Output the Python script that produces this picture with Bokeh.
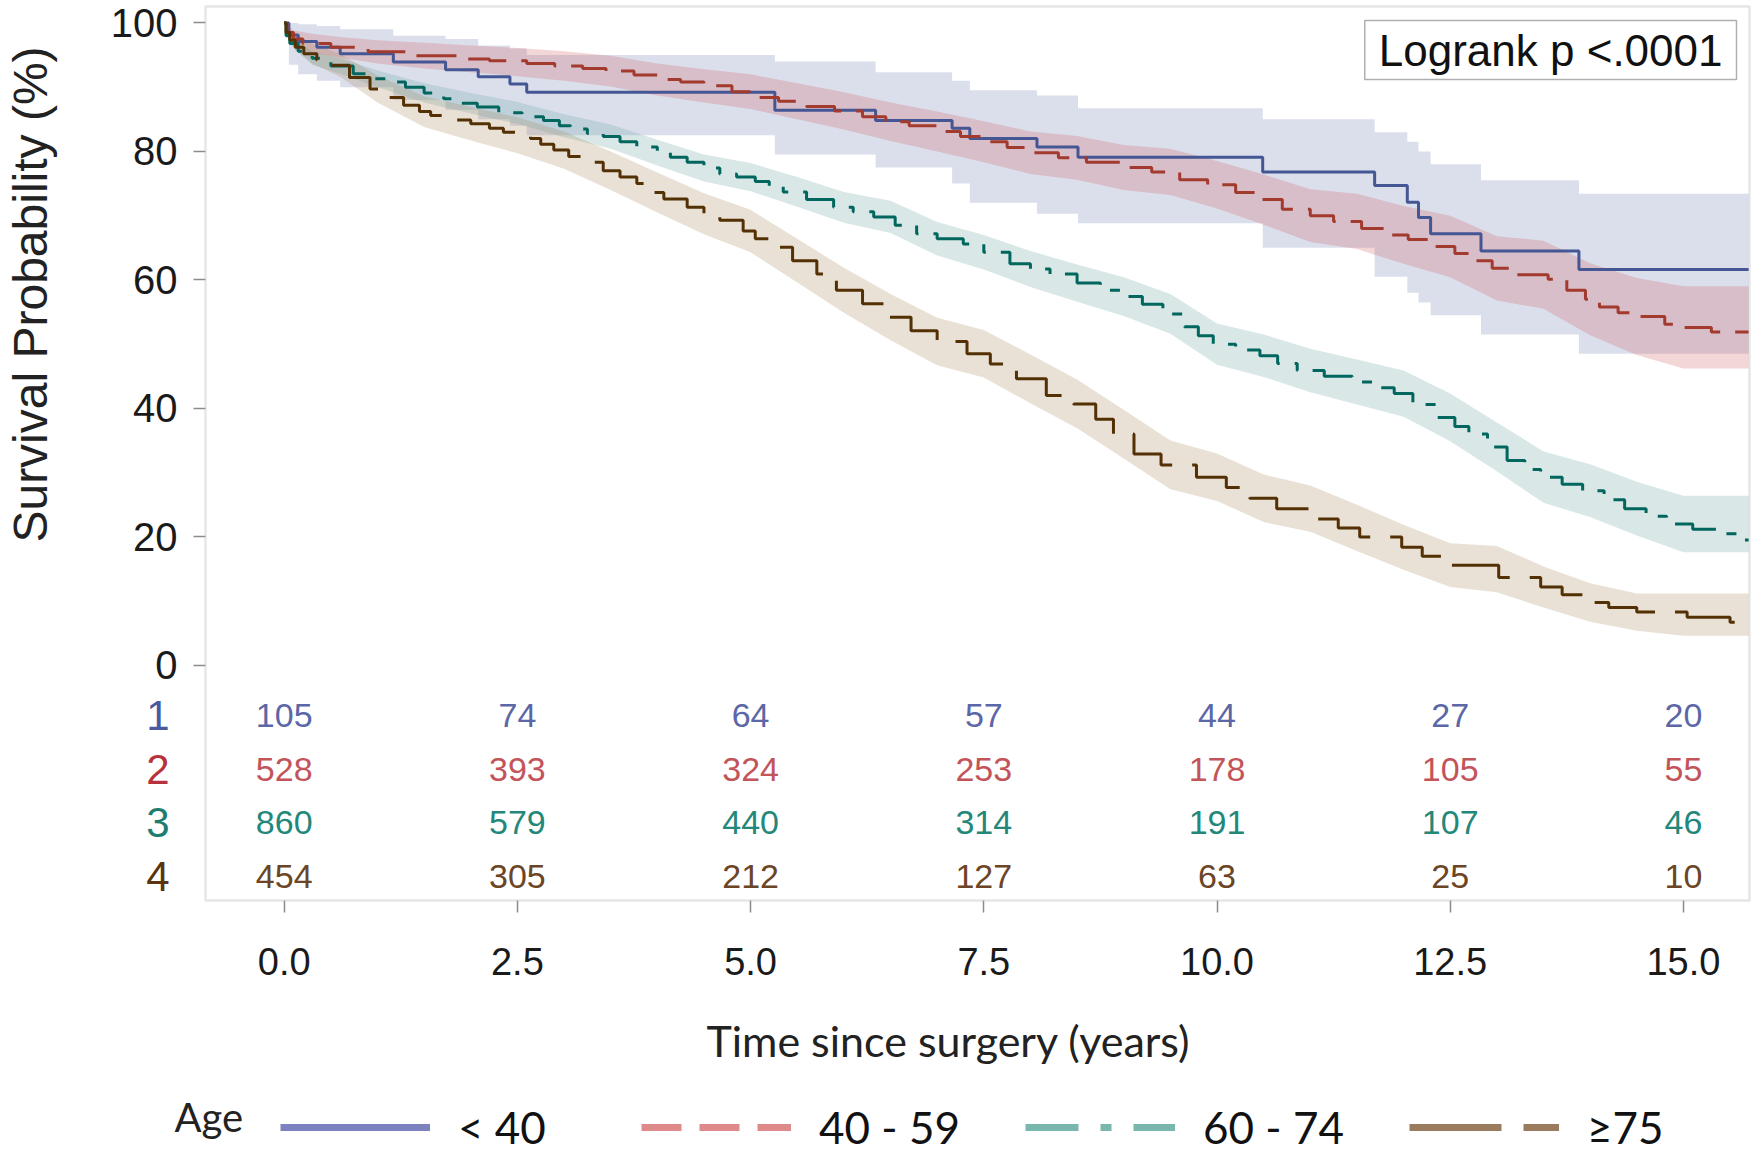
import math
from bokeh.plotting import figure
from bokeh.models import (FixedTicker, NumeralTickFormatter, Label, Legend, LegendItem,
                          ColumnDataSource, LinearAxis, BoxAnnotation)
from bokeh.core.properties import value
from bokeh.embed import file_html
from bokeh.resources import INLINE

# ---------------- data ----------------
groups = ["< 40", "40 - 59", "60 - 74", "≥75"]
row_names = ["1", "2", "3", "4"]
follow_up_end = 15.7

# Kaplan-Meier step curves (time in years, survival %)
t_lt40 = [0, 0.05, 0.15, 0.35, 0.6, 1.17, 1.73, 2.08, 2.42, 2.60, 5.26, 6.34, 7.16, 7.35,
          8.07, 8.51, 10.49, 11.69, 12.04, 12.16, 12.29, 12.83, 13.88]
s_lt40 = [100, 98.1, 97.1, 96.2, 95.2, 93.9, 92.7, 91.6, 90.5, 89.2, 86.4, 84.8, 83.6, 82.0,
          80.7, 79.1, 76.8, 74.7, 72.1, 69.7, 67.2, 64.5, 61.6]
lo_lt40 = [100, 93.5, 92, 91, 90, 88, 86.5, 85, 84, 82.5, 79.5, 77.5, 75, 72,
           70.3, 68.8, 65, 60.5, 58, 56.5, 54.5, 51.5, 48.5]
hi_lt40 = [100, 100, 99.8, 99.5, 99, 98, 97.5, 96.5, 96, 95, 94, 92.3, 91, 89.5,
           88.7, 86.7, 85, 83, 81.5, 80, 78, 75.5, 73.4]

t_40_59 = [0, 0.03, 0.1, 0.2, 0.5, 0.9, 1.4, 1.9, 2.2, 2.6, 2.9, 3.2, 3.45, 3.75, 4.0, 4.25,
           4.5, 4.8, 5.05, 5.3, 5.6, 5.9, 6.2, 6.45, 6.7, 7.0, 7.25, 7.5, 7.75, 8.0, 8.3, 8.6,
           9.0, 9.3, 9.6, 9.9, 10.2, 10.45, 10.7, 11.0, 11.25, 11.55, 11.8, 12.05, 12.3, 12.55,
           12.75, 12.95, 13.15, 13.55, 13.75, 13.95, 14.1, 14.3, 14.5, 14.8, 14.95, 15.3]
s_40_59 = [100, 98.5, 97.5, 96.8, 96.2, 95.5, 94.9, 94.4, 94.1, 93.7, 93.3, 92.9, 92.5, 91.9,
           91.2, 90.8, 90.2, 89.3, 88.4, 87.8, 87.0, 86.3, 85.4, 84.6, 84.0, 83.1, 82.3, 81.5,
           80.6, 79.8, 79.0, 78.3, 77.5, 76.8, 75.6, 74.8, 73.6, 72.5, 71.0, 70.0, 69.1, 68.0,
           67.0, 66.3, 65.2, 64.1, 63.0, 61.8, 60.8, 60.1, 58.4, 57.0, 55.8, 54.9, 54.3, 53.1,
           52.6, 51.9]

t_60_74 = [0, 0.02, 0.06, 0.15, 0.3, 0.5, 0.74, 0.95, 1.1, 1.3, 1.5, 1.71, 1.9, 2.07, 2.3,
           2.55, 2.78, 2.95, 3.07, 3.25, 3.42, 3.6, 3.78, 4.0, 4.14, 4.32, 4.5, 4.67, 4.85, 5.05,
           5.2, 5.35, 5.6, 5.89, 6.1, 6.32, 6.55, 6.78, 7.0, 7.28, 7.5, 7.78, 8.0, 8.21, 8.5,
           8.75, 9.0, 9.2, 9.42, 9.65, 9.8, 9.96, 10.2, 10.46, 10.65, 10.86, 11.15, 11.45, 11.7,
           11.9, 12.1, 12.35, 12.55, 12.7, 12.9, 13.11, 13.3, 13.47, 13.7, 13.92, 14.15, 14.37,
           14.6, 14.82, 15.1, 15.4, 15.6]
s_60_74 = [100, 98, 96.8, 95.6, 94.5, 93.3, 92.1, 91.3, 90.8, 90.0, 89.1, 88.2, 87.5, 86.9,
           86.0, 85.4, 84.8, 84.0, 83.5, 82.8, 82.3, 81.5, 80.7, 79.8, 79.1, 78.3, 77.4, 76.5,
           76.0, 75.3, 74.5, 73.7, 72.5, 71.3, 70.6, 69.8, 68.5, 67.2, 66.4, 65.6, 64.3, 62.5,
           61.7, 60.9, 59.5, 58.4, 57.4, 56.2, 54.7, 52.7, 51.3, 50.0, 49.1, 48.2, 47.0, 45.9,
           45.0, 44.1, 43.2, 42.3, 40.6, 38.6, 37.2, 36.0, 34.0, 31.9, 30.5, 29.3, 28.2, 27.2,
           25.8, 24.4, 23.2, 22.0, 21.2, 20.5, 19.5]

t_ge75 = [0, 0.02, 0.06, 0.12, 0.21, 0.35, 0.5, 0.7, 0.92, 1.1, 1.28, 1.45, 1.57, 1.8, 2.0,
          2.2, 2.35, 2.5, 2.64, 2.75, 2.89, 3.05, 3.2, 3.42, 3.6, 3.78, 3.95, 4.07, 4.32, 4.5,
          4.67, 4.92, 5.05, 5.2, 5.45, 5.71, 5.92, 6.2, 6.47, 6.72, 7.0, 7.32, 7.57, 7.85, 8.17,
          8.46, 8.7, 8.89, 9.11, 9.4, 9.78, 10.1, 10.35, 10.64, 11.08, 11.3, 11.53, 11.98, 12.2,
          12.48, 13.02, 13.47, 13.7, 13.92, 14.2, 14.5, 15.04, 15.5]
s_ge75 = [100, 98.5, 97.3, 96.2, 95.2, 94.2, 93.4, 91.5, 89.7, 88.4, 87.2, 86.2, 85.6, 84.9,
          84.3, 83.6, 83.0, 82.5, 82.0, 81.1, 80.2, 79.2, 78.3, 77.0, 76.0, 75.0, 73.6, 72.6,
          71.3, 70.3, 69.3, 67.6, 66.4, 65.1, 63.0, 60.9, 58.4, 56.3, 54.2, 52.1, 50.4, 48.5,
          46.9, 44.6, 42.0, 40.7, 38.3, 36.0, 32.9, 31.2, 29.3, 27.7, 26.0, 24.4, 22.8, 21.4,
          20.0, 18.4, 17.0, 15.6, 13.7, 12.2, 11.0, 9.8, 9.0, 8.3, 7.5, 6.7]

# confidence bands of the three larger groups, read every half year
band_t = [0, 0.1, 0.3, 0.6, 1.0, 1.5, 2.0, 2.5, 3.0, 3.5, 4.0, 4.5, 5.0, 5.5, 6.0, 6.5, 7.0,
          7.5, 8.0, 8.5, 9.0, 9.5, 10.0, 10.5, 11.0, 11.5, 12.0, 12.5, 13.0, 13.5, 14.0, 14.5, 15.0]
lo_40_59 = [100, 96.2, 95.3, 94.6, 93.7, 92.9, 92.3, 91.7, 91.0, 90.1, 88.7, 87.6, 86.6, 85.0,
            83.4, 81.6, 80.0, 78.3, 76.5, 75.6, 74.0, 73.2, 71.1, 68.6, 65.9, 64.8, 62.5, 60.4,
            56.8, 55.5, 51.4, 48.3, 46.2]
hi_40_59 = [100, 98.8, 98.3, 97.8, 97.3, 96.9, 96.5, 96.1, 95.6, 94.9, 93.7, 92.8, 92.0, 90.6,
            89.2, 87.6, 86.2, 84.7, 83.1, 82.4, 81.0, 80.4, 78.5, 76.4, 74.1, 73.4, 71.5, 70.0,
            66.8, 66.1, 62.6, 60.3, 59.0]
lo_60_74 = [100, 96.0, 93.5, 92.1, 90.0, 87.6, 85.9, 84.3, 82.2, 80.4, 77.8, 75.3, 73.8, 71.4,
            68.9, 67.3, 63.8, 61.6, 58.9, 56.6, 54.4, 51.6, 46.8, 44.9, 42.5, 40.6, 38.7, 34.9,
            30.2, 25.3, 23.1, 20.2, 17.6]
hi_60_74 = [100, 97.6, 95.5, 94.5, 92.6, 90.6, 89.1, 87.7, 85.8, 84.2, 81.8, 79.5, 78.2, 76.0,
            73.7, 72.3, 69.0, 67.0, 64.5, 62.4, 60.4, 57.8, 53.2, 51.5, 49.3, 47.6, 45.9, 42.3,
            37.8, 33.3, 31.3, 28.6, 26.4]
lo_ge75 = [100, 96.1, 93.7, 91.6, 87.6, 83.8, 81.7, 79.7, 77.3, 74.0, 70.5, 67.1, 64.3, 59.6,
           54.9, 50.6, 46.7, 44.8, 40.8, 36.9, 32.2, 27.4, 25.6, 22.3, 20.8, 17.8, 14.9, 12.2,
           11.4, 9.0, 6.8, 5.4, 4.6]
hi_ge75 = [100, 98.5, 96.7, 95.2, 91.8, 88.6, 86.9, 85.3, 83.1, 80.0, 76.7, 73.5, 70.9, 66.4,
           61.9, 57.8, 54.1, 52.2, 48.4, 44.5, 39.8, 35.0, 33.0, 29.7, 28.0, 25.0, 21.9, 19.0,
           18.6, 15.4, 12.8, 11.2, 11.2]

# numbers at risk
risk_times = [0.0, 2.5, 5.0, 7.5, 10.0, 12.5, 15.0]
risk_lt40 = [105, 74, 64, 57, 44, 27, 20]
risk_40_59 = [528, 393, 324, 253, 178, 105, 55]
risk_60_74 = [860, 579, 440, 314, 191, 107, 46]
risk_ge75 = [454, 305, 212, 127, 63, 25, 10]

y_ticks = [0, 20, 40, 60, 80, 100]
pvalue_text = "Logrank p <.0001"
x_title = "Time since surgery (years)"
y_title = "Survival Probability (%)"
legend_title = "Age"

# ---------------- styling ----------------
line_colors = ["#445694", "#A23A2E", "#01665E", "#543005"]
band_colors = ["#6F7EB3", "#D05B5B", "#66A5A0", "#A9865B"]
risk_colors = ["#5b67a6", "#c2545a", "#23877a", "#6b4526"]
row_colors = ["#4a5aa0", "#b8323e", "#1d7d70", "#5a3510"]
dashes = ["solid", "40 15", "46 15 10 15", "70 20"]
legend_colors = ["#7b82bf", "#de8a8a", "#78b6ae", "#9a7b5e"]
legend_dashes = ["solid", "40 18", "53 22 11 22", "92 22 36 22"]
SANS = "Liberation Sans"
PPT = "Lato"

# page pixel -> data helpers (used only to place texts and the frame box)
def xd(px):
    return (px - 283.7) / 93.28

def yd(py):
    return (664.9 - py) / 6.425

W, H = 1756, 1154
p = figure(width=W, height=H, x_range=(xd(0), xd(W)), y_range=(yd(H), yd(0)),
           output_backend="svg", toolbar_location=None, x_axis_location=None,
           y_axis_location=None, min_border=0)
p.title.visible = False
p.grid.visible = False
p.outline_line_color = None
p.background_fill_color = "white"
p.border_fill_color = "white"

# plot box (gray border round curves and at-risk table)
p.add_layout(BoxAnnotation(left=xd(205), right=xd(1749), top=yd(6), bottom=yd(900),
                           fill_alpha=0, line_color="#ababab", line_width=2.5))

yaxis = LinearAxis(fixed_location=xd(205), ticker=FixedTicker(ticks=y_ticks))
xaxis = LinearAxis(fixed_location=yd(900), ticker=FixedTicker(ticks=risk_times),
                   formatter=NumeralTickFormatter(format="0.0"))
for ax in (xaxis, yaxis):
    ax.axis_line_color = None
    ax.major_tick_line_color = "#8c8c8c"
    ax.major_tick_line_width = 1.5
    ax.major_tick_out = 12
    ax.major_tick_in = 0
    ax.minor_tick_out = 0
    ax.minor_tick_in = 0
    ax.major_label_text_font = SANS
    ax.major_label_text_color = "#1a1a1a"
yaxis.major_label_text_font_size = "40px"
yaxis.major_label_standoff = 16
xaxis.major_label_text_font_size = "38px"
xaxis.major_label_standoff = 35
p.add_layout(yaxis, "left")
p.add_layout(xaxis, "below")

def with_end(t, v):
    return list(t) + [follow_up_end], list(v) + [v[-1]]

# confidence bands
band_alpha = 0.25
x, y1 = with_end(t_lt40, lo_lt40)
_, y2 = with_end(t_lt40, hi_lt40)
p.varea_step(x=x, y1=y1, y2=y2, step_mode="after", fill_color=band_colors[0],
             fill_alpha=band_alpha)
for i, (lo, hi) in enumerate([(lo_40_59, hi_40_59), (lo_60_74, hi_60_74), (lo_ge75, hi_ge75)], 1):
    x, y1 = with_end(band_t, lo)
    _, y2 = with_end(band_t, hi)
    p.varea(x=x, y1=y1, y2=y2, fill_color=band_colors[i], fill_alpha=band_alpha)

# survival curves
curves = [(t_lt40, s_lt40), (t_40_59, s_40_59), (t_60_74, s_60_74), (t_ge75, s_ge75)]
for i, (t, s) in enumerate(curves):
    x, y = with_end(t, s)
    p.step(x=x, y=y, mode="after", line_color=line_colors[i], line_width=3,
           line_dash=dashes[i])

# at-risk table inside the box, with coloured row labels outside it
row_y = [yd(715), yd(769), yd(822), yd(876)]
risks = [risk_lt40, risk_40_59, risk_60_74, risk_ge75]
for i, counts in enumerate(risks):
    src = ColumnDataSource(dict(x=risk_times, y=[row_y[i]] * len(risk_times),
                                t=[str(c) for c in counts]))
    p.text(x="x", y="y", text="t", source=src, text_font=value(SANS), text_font_size="34px",
           text_align="center", text_baseline="middle", text_color=risk_colors[i])
p.text(x=[xd(169)] * 4, y=row_y, text=row_names, text_font=value(SANS),
       text_font_size="42px", text_align="right", text_baseline="middle",
       text_color=row_colors)

# axis titles
p.add_layout(Label(x=xd(30), y=yd(294), text=y_title, angle=math.pi / 2, text_align="center",
                   text_baseline="middle", text_font=SANS, text_font_size="48px",
                   text_color="#222222"))
p.add_layout(Label(x=xd(948), y=yd(1040), text=x_title, text_align="center",
                   text_baseline="middle", text_font=PPT, text_font_size="43px",
                   text_color="#222222"))

# logrank box
p.add_layout(Label(x=xd(1736), y=yd(49.5), text=pvalue_text, text_align="right",
                   text_baseline="middle", text_font=SANS, text_font_size="44px",
                   text_color="#111111", border_line_color="#b0b0b0", border_line_width=1.5,
                   background_fill_color="white", padding=(14, 5)))

# legend
p.add_layout(Label(x=xd(174), y=yd(1116), text=legend_title, text_align="left",
                   text_baseline="middle", text_font=PPT, text_font_size="40px",
                   text_color="#222222"))
items = []
for i, g in enumerate(groups):
    r = p.line(x=[float("nan")], y=[float("nan")], line_color=legend_colors[i], line_width=7,
               line_dash=legend_dashes[i])
    items.append(LegendItem(label=g, renderers=[r]))
legend = Legend(items=items, orientation="horizontal", location=(280, 1),
                glyph_width=150, glyph_height=50, label_width=118, label_standoff=28,
                spacing=65, padding=0, margin=0, border_line_alpha=0,
                background_fill_alpha=0, label_text_font=PPT, label_text_font_size="44px",
                label_text_color="#111111")
p.add_layout(legend, "center")

open("out.html", "w").write(file_html(p, INLINE))
